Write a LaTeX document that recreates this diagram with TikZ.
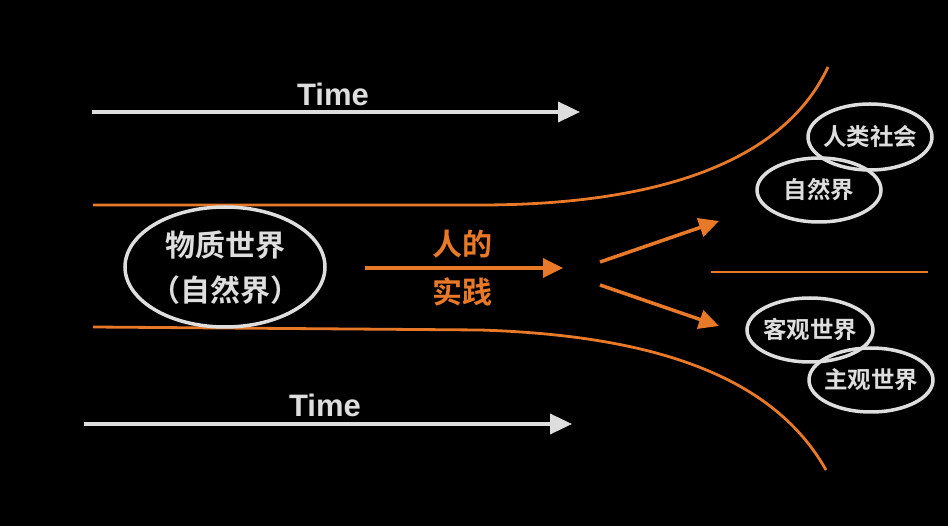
\documentclass[tikz,border=0pt]{standalone}
\usepackage{fontspec}
\setmainfont{Liberation Sans}
\newfontfamily\cjk{Noto Sans CJK SC}[BoldFont={Noto Sans CJK SC Bold}]
\usetikzlibrary{arrows.meta,shapes.geometric}
\definecolor{chalk}{RGB}{222,222,222}
\definecolor{orng}{RGB}{232,121,40}
\tikzset{
  timearrow/.style={draw=chalk, line width=3.5pt, -{Triangle[length=22pt,width=20pt]}},
  orarrow/.style={draw=orng, line width=3.5pt, -{Triangle[length=20pt,width=19pt]}},
  orline/.style={draw=orng, line width=2.8pt},
  bubble/.style={draw=chalk, line width=3.5pt, ellipse, inner sep=0pt},
  timelabel/.style={text=chalk, font=\bfseries\fontsize{31}{31}\selectfont},
  bigcn/.style={font=\cjk\bfseries\fontsize{30}{30}\selectfont},
  smallcn/.style={text=chalk, font=\cjk\bfseries\fontsize{23.5}{23.5}\selectfont},
}
\begin{document}
\begin{tikzpicture}[x=1pt,y=-1pt]
\fill[black] (0,0) rectangle (948,526);
\useasboundingbox (0,0) rectangle (948,526);

% time arrows
\coordinate (t1s) at (92,112);
\coordinate (t1e) at (580,112);
\draw[timearrow] (t1s) -- (t1e);
\node[timelabel] (time1) at (333,94) {Time};
\coordinate (t2s) at (84,424);
\coordinate (t2e) at (572,424);
\draw[timearrow] (t2s) -- (t2e);
\node[timelabel] (time2) at (325,405) {Time};

% orange boundary curves
\coordinate (ua) at (93,205);
\coordinate (ub) at (828,67);
\draw[orline] (ua) -- (480,205) .. controls (640,205) and (780,170) .. (ub);
\coordinate (la) at (93,327);
\coordinate (lb) at (826,470);
\draw[orline] (la) -- (480,330) .. controls (640,335) and (770,370) .. (lb);

% left ellipse
\node[bubble, minimum width=200pt, minimum height=120pt] (world) at (225,267) {};
\node[bigcn, text=chalk] (w1) at (225,245) {物质世界};
\node[bigcn, text=chalk] (w2) at (225,290) {（自然界）};

% practice
\coordinate (ps) at (365,268);
\coordinate (pe) at (563,268);
\draw[orarrow] (ps) -- (pe);
\node[bigcn, text=orng] (p1) at (462,244) {人的};
\node[bigcn, text=orng] (p2) at (462,292) {实践};

% diverging arrows
\coordinate (d1s) at (600,262);
\coordinate (d1e) at (719,221);
\draw[orarrow] (d1s) -- (d1e);
\coordinate (d2s) at (600,285);
\coordinate (d2e) at (719,326);
\draw[orarrow] (d2s) -- (d2e);

% divider
\coordinate (hs) at (711,272);
\coordinate (he) at (928,272);
\draw[orline] (hs) -- (he);

% right bubbles
\node[bubble, minimum width=124pt, minimum height=66pt] (e1) at (870,137) {};
\node[smallcn] (r1) at (870,137) {人类社会};
\node[bubble, minimum width=124pt, minimum height=64pt] (e2) at (819,190) {};
\node[smallcn] (r2) at (819,190) {自然界};
\node[bubble, minimum width=126pt, minimum height=64pt] (e3) at (810,330) {};
\node[smallcn] (r3) at (810,330) {客观世界};
\node[bubble, minimum width=124pt, minimum height=64pt] (e4) at (871,380) {};
\node[smallcn] (r4) at (871,380) {主观世界};
\end{tikzpicture}
\end{document}
